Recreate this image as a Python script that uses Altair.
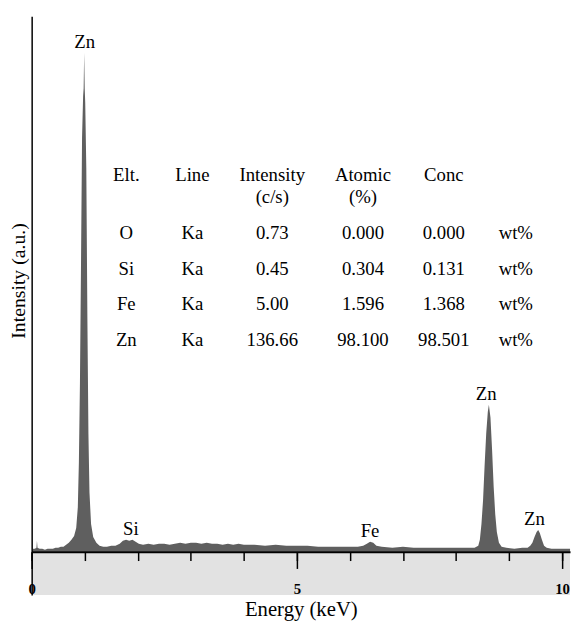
import altair as alt
import pandas as pd

# ---------------- data ----------------
energy_kev = [0.00, 0.03, 0.06, 0.09, 0.10, 0.11, 0.15, 0.20, 0.25, 0.30, 0.35, 0.40, 0.45, 0.50,
              0.55, 0.60, 0.65, 0.70, 0.75, 0.80, 0.84, 0.87, 0.89, 0.91, 0.93, 0.95, 0.97, 0.98,
              0.99, 1.00, 1.01, 1.03, 1.05, 1.07, 1.09, 1.12, 1.16, 1.22, 1.28, 1.35, 1.42, 1.50,
              1.58, 1.66, 1.72, 1.78, 1.84, 1.90, 1.96, 2.02, 2.10, 2.20, 2.30, 2.40, 2.50, 2.60,
              2.70, 2.80, 2.90, 3.00, 3.10, 3.20, 3.30, 3.40, 3.50, 3.60, 3.70, 3.80, 3.90, 4.00,
              4.20, 4.40, 4.60, 4.80, 5.00, 5.20, 5.40, 5.60, 5.80, 6.00, 6.15, 6.25, 6.32, 6.38,
              6.44, 6.50, 6.60, 6.80, 7.00, 7.20, 7.40, 7.60, 7.80, 8.00, 8.20, 8.35, 8.42, 8.45,
              8.48, 8.51, 8.54, 8.57, 8.60, 8.62, 8.65, 8.68, 8.71, 8.74, 8.77, 8.81, 8.86, 8.95,
              9.10, 9.25, 9.35, 9.40, 9.44, 9.48, 9.52, 9.55, 9.58, 9.62, 9.66, 9.71, 9.80, 9.95,
              10.10, 10.15]
intensity_au = [0, 3, 3, 4, 11, 4, 3, 3, 2, 3, 3, 3, 4, 4,
                5, 5, 7, 9, 12, 16, 24, 45, 90, 170, 290, 420, 462, 470,
                506, 470, 455, 390, 240, 120, 60, 28, 15, 9, 6, 5, 5, 6,
                6, 8, 11, 12, 11, 12, 10, 8, 7, 8, 7, 8, 8, 7,
                8, 9, 8, 9, 9, 8, 9, 8, 8, 7, 8, 7, 8, 7,
                7, 6, 7, 6, 6, 6, 5, 5, 5, 5, 5, 6, 8, 10,
                9, 6, 5, 4, 5, 4, 4, 4, 4, 4, 4, 4, 6, 12,
                28, 52, 88, 120, 142, 149, 136, 104, 66, 38, 20, 9, 5, 4,
                3, 4, 4, 6, 9, 15, 20, 22, 19, 12, 6, 4, 3, 3,
                3, 3]

peak_names = ["Zn", "Si", "Fe", "Zn", "Zn"]
peak_kev = [1.00, 1.87, 6.38, 8.57, 9.48]
peak_height = [506, 12, 10, 149, 22]

tbl_headers = ["Elt.", "Line", "Intensity", "Atomic", "Conc", ""]
tbl_subheaders = ["", "", "(c/s)", "(%)", "", ""]
tbl_elements = ["O", "Si", "Fe", "Zn"]
tbl_lines = ["Ka", "Ka", "Ka", "Ka"]
tbl_intensity = ["0.73", "0.45", "5.00", "136.66"]
tbl_atomic = ["0.000", "0.304", "1.596", "98.100"]
tbl_conc = ["0.000", "0.131", "1.368", "98.501"]
tbl_unit = ["wt%", "wt%", "wt%", "wt%"]

# ---------------- layout ----------------
X_MAX = 10.15
Y_MIN, Y_MAX = -44, 543
W, H = 546, 587
PLOT_LEFT, PLOT_TOP = 32, 12          # page coordinates of the plot origin
col_px = [128, 195, 276, 368, 450, 523]
header_px, sub_px = 179, 201
row_px = [238, 274, 310, 346]

SERIF = "Liberation Serif"
NARROW = "Liberation Sans Narrow"

spec = pd.DataFrame({"E": energy_kev, "I": intensity_au})
peaks = pd.DataFrame({"name": peak_names, "kev": peak_kev, "h": peak_height})

cells = []
for j, t in enumerate(tbl_headers):
    cells.append({"cx": col_px[j] - PLOT_LEFT, "cy": header_px - PLOT_TOP, "t": t})
for j, t in enumerate(tbl_subheaders):
    cells.append({"cx": col_px[j] - PLOT_LEFT, "cy": sub_px - PLOT_TOP, "t": t})
columns = [tbl_elements, tbl_lines, tbl_intensity, tbl_atomic, tbl_conc, tbl_unit]
for i in range(len(tbl_elements)):
    for j, col in enumerate(columns):
        cells.append({"cx": col_px[j] - PLOT_LEFT, "cy": row_px[i] - PLOT_TOP, "t": col[i]})
cells = pd.DataFrame(cells)
cells = cells[cells["t"] != ""]

xscale = alt.Scale(domain=[0, X_MAX], nice=False, zero=False)
yscale = alt.Scale(domain=[Y_MIN, Y_MAX], nice=False, zero=False)

band = alt.Chart(pd.DataFrame({"a": [0]})).mark_rect(color="#e2e2e2").encode(
    x=alt.value(0), x2=alt.value(W), y=alt.value(Y_MAX), y2=alt.value(H)
)

area = alt.Chart(spec).mark_area(color="#5f5f5f", interpolate="linear").encode(
    x=alt.X("E:Q", scale=xscale,
            axis=alt.Axis(orient="bottom", values=list(range(11)), tickSize=9, tickWidth=1.5,
                          tickColor="black", labels=False, domain=True, domainColor="black",
                          domainWidth=2, grid=False, offset=-44, zindex=1,
                          title="Energy (keV)", titleFont=SERIF, titleFontSize=21,
                          titleFontWeight="normal", titleColor="black",
                          titleBaseline="alphabetic", titleY=65)),
    y=alt.Y("I:Q", scale=yscale,
            axis=alt.Axis(orient="left", ticks=False, labels=False, grid=False, domain=True,
                          domainColor="black", domainWidth=1.5, zindex=1,
                          title="Intensity (a.u.)", titleFont=SERIF, titleFontSize=20,
                          titleFontWeight="normal", titleColor="black",
                          titlePadding=3, titleY=268)),
    y2=alt.datum(0),
)

labels = alt.Chart(peaks).mark_text(font=SERIF, fontSize=19, color="black",
                                    baseline="alphabetic", dy=-5).encode(
    x=alt.X("kev:Q", scale=xscale,
            axis=alt.Axis(orient="bottom", values=[0, 5, 10], tickSize=17, tickWidth=1.5,
                          tickColor="black", domain=False, grid=False, offset=-44, zindex=1,
                          labelFont=NARROW, labelFontSize=15, labelFontWeight="bold",
                          labelColor="black", labelPadding=13, labelBaseline="top",
                          labelFlush=False, title=None)),
    y=alt.Y("h:Q", scale=yscale, axis=None),
    text="name:N",
)

table = alt.Chart(cells).mark_text(font=SERIF, fontSize=19, color="black",
                                   baseline="alphabetic", align="center").encode(
    x=alt.X("cx:Q", scale=alt.Scale(domain=[0, W], range=[0, W], nice=False, zero=False), axis=None),
    y=alt.Y("cy:Q", scale=alt.Scale(domain=[0, H], range=[0, H], nice=False, zero=False), axis=None),
    text="t:N",
)

chart = alt.layer(band, area, labels, table).resolve_scale(
    x="independent", y="independent"
).properties(
    width=W, height=H,
    autosize=alt.AutoSizeParams(type="none"),
    padding={"left": 24, "top": 4, "right": 2, "bottom": 27},
    background="white",
).configure_view(stroke=None)

chart.save("out.html", embed_options={"renderer": "svg", "actions": False})
